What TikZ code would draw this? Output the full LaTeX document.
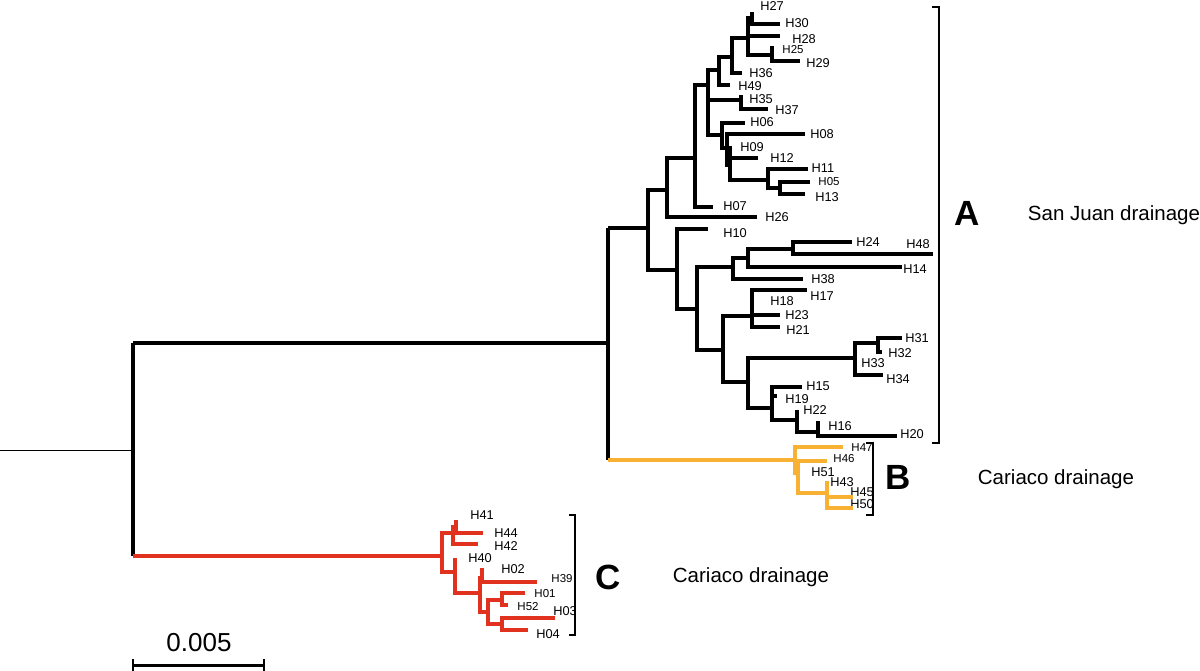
\documentclass[tikz,border=0pt]{standalone}
\usepackage{fontspec}
\setmainfont{Liberation Sans}
\usetikzlibrary{calc}
\definecolor{CladeB}{HTML}{F8B133}
\definecolor{CladeC}{HTML}{E1321F}
\tikzset{branch/.style={line width=3.9pt,line join=miter},
 tip/.style={inner sep=0pt,font=\fontsize{12.8}{14}\selectfont},
 tipsm/.style={inner sep=0pt,font=\fontsize{11.5}{13}\selectfont},
 bracket/.style={line width=1.4pt},
 clade/.style={inner sep=0pt,font=\bfseries\fontsize{35}{40}\selectfont},
 region/.style={inner sep=0pt,font=\fontsize{20.5}{24}\selectfont}}

\begin{document}
\begin{tikzpicture}[x=1pt,y=-1pt]
\useasboundingbox (0,0) rectangle (1200,671);
\foreach \n/\x/\y in {R/133/450,AB/608/343,A/648/228,A1/667/190,U/695/158,U2/708/85,
 U3/719/70,U6/732/57,U7/748/38,U8/752/18,U9/772/55,U4/741/100,U5/722/135,U10/727/148,
 U11/730/165,U12/768/180,U13/780/188,A2/677/270,A3/697/309,A6/733/267,A6a/748/258,
 A6b/793/249,A4/723/350,A5/752/316,A7/748/382,A8/855/358,A9/878/343,A10/772/408,
 A11/797/420,A12/818/432,B/795/460,B1/798/473,B2/827/493,C/442/556,C1/453/533,
 C1a/456/527,C2/455/572,C3/480/593,C4/482/578,C5/488/612,C6/502/600,C7/502/624}
 \coordinate (\n) at (\x,\y);
\foreach \n/\tx/\ty/\lx/\ly in {H27/752/12/772/6,H30/780/24/797/23,H28/780/36/804/39,
 H29/800/61/818/63,H36/742/73/761/73,H49/730/85/750/86,H35/743/97/761/99,
 H37/768/109/787/110,H06/745/123/762/122,H08/805/134/822/134,H09/732/148/752/147,
 H12/758/158/782/158,H11/808/169/823/168,H13/805/194/827/197,H07/713/207/735/206,
 H26/757/217/777/217,H10/708/229/735/233,H24/852/242/868/242,H48/933/254/918/244,
 H14/902/267/915/269,H38/803/279/823/279,H17/807/290/822/296,H18/754/300/782/301,
 H23/780/315/797/315,H21/780/327/798/330,H31/902/338/917/338,H32/882/352/900/353,
 H33/857/365/873/363,H34/883/375/898/379,H15/802/387/818/386,H19/777/396/797/399,
 H22/799/412/815/410,H16/820/423/840/426,H20/897/436/912/434,H45/853/497/862/492,
 H50/853/508/862/504,H51/800/478/823/472,H43/829/483/842/482,H41/456/520/482/515,
 H44/483/533/506/533,H42/478/544/506/546,H40/457/560/480/558,H02/482/568/513/569,
 H03/555/618/565/611,H04/528/630/548/634}{
 \coordinate (\n) at (\tx,\ty);
 \node[tip] (l\n) at (\lx,\ly) {\n};
}
\foreach \n/\tx/\ty/\lx/\ly in {H25/774/48/793/50,H05/810/182/829/182,H47/843/447/862/448,
 H46/827/461/844/459,H39/537/582/562/579,H01/525/593/545/594,H52/508/605/528/607}{
 \coordinate (\n) at (\tx,\ty);
 \node[tipsm] (l\n) at (\lx,\ly) {\n};
}
\foreach \p/\c in {A/A1,A/A2,A1/U,A1/H26,U/U2,U/H07,U2/U3,U2/U4,U2/U5,U3/U6,U3/H49,
 U6/U7,U6/H36,U7/U8,U7/H28,U7/U9,U8/H27,U8/H30,U9/H25,U9/H29,U4/H35,U4/H37,U5/H06,
 U5/U10,U10/H08,U10/U11,U11/H09,U11/H12,U11/U12,U12/H11,U12/U13,U13/H05,U13/H13,
 A2/H10,A2/A3,A3/A6,A3/A4,A6/A6a,A6/H38,A6a/A6b,A6a/H14,A6b/H24,A6b/H48,A4/A5,A4/A7,
 A5/H17,A5/H18,A5/H23,A5/H21,A7/A8,A7/A10,A8/A9,A8/H33,A8/H34,A9/H31,A9/H32,A10/H15,
 A10/H19,A10/A11,A11/H22,A11/A12,A12/H16,A12/H20}
 \draw[branch] (\p) |- (\c);
\foreach \p/\c in {B/H47,B/B1,B1/H46,B1/H51,B1/B2,B2/H43,B2/H45,B2/H50}
 \draw[branch,CladeB] (\p) |- (\c);
\foreach \p/\c in {C/C1,C/C2,C1/C1a,C1/H42,C1a/H41,C1a/H44,C2/H40,C2/C3,C3/C4,C3/C5,
 C4/H02,C4/H39,C5/C6,C5/C7,C6/H01,C6/H52,C7/H03,C7/H04}
 \draw[branch,CladeC] (\p) |- (\c);
\coordinate (base) at (0,450);
\draw[line width=1pt] (base) -- (R);
\draw[branch] (R |- AB) -- (R |- C);
\draw[branch] (R |- AB) -- (AB);
\draw[branch,CladeC] (R |- C) -- (C);
\draw[branch] (AB |- A) -- (AB |- B);
\draw[branch] (AB |- A) -- (A);
\draw[branch,CladeB] (AB |- B) -- (B);
\draw[bracket] (932,7) -- (939,7) -- (939,443) -- (932,443);
\draw[bracket] (866,443) -- (873,443) -- (873,515) -- (866,515);
\draw[bracket] (569,515) -- (575,515) -- (575,635) -- (569,635);
\node[clade] (labA) at (967,213) {A};
\node[clade] (labB) at (898,477) {B};
\node[clade] (labC) at (608,577) {C};
\node[region] (regA) at (1114,215) {San Juan drainage};
\node[region] (regB) at (1056,479) {Cariaco drainage};
\node[region] (regC) at (751,577) {Cariaco drainage};
\coordinate (s0) at (133,665);
\coordinate (s1) at (264,665);
\draw[line width=3pt] (s0) -- (s1);
\draw[line width=2pt] ($(s0)+(0,-6)$) -- ($(s0)+(0,6)$) ($(s1)+(0,-6)$) -- ($(s1)+(0,6)$);
\node[inner sep=0pt,font=\fontsize{26}{30}\selectfont] (sbar) at (199,643) {0.005};
\end{tikzpicture}
\end{document}
